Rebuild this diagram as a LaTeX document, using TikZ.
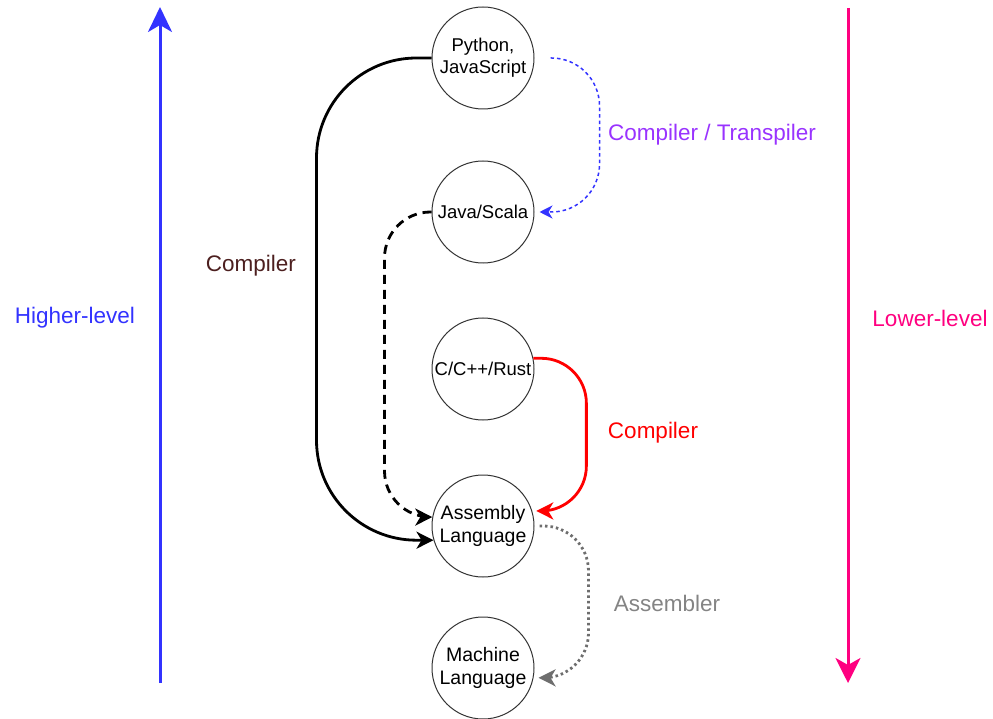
\documentclass[tikz,border=0pt]{standalone}
\usepackage{fontspec}
\setmainfont{Liberation Sans}
\usetikzlibrary{arrows.meta}

\definecolor{hiblue}{HTML}{3333FF}
\definecolor{lopink}{HTML}{FF0080}
\definecolor{maroon}{HTML}{4C1F1F}
\definecolor{violet}{HTML}{9933FF}
\definecolor{asmgray}{HTML}{6E6E6E}

\tikzset{
  lang/.style={circle, draw=black!80, line width=1pt, minimum size=102pt, inner sep=0pt, align=center},
  small/.style={font=\fontsize{18.5}{22}\selectfont},
  big/.style={font=\fontsize{19.5}{23.5}\selectfont},
  lbl/.style={font=\fontsize{22.5}{27}\selectfont},
  tipbig/.style={-{Stealth[length=17pt,width=17pt,inset=5pt]}},
  tipsmall/.style={-{Stealth[length=13pt,width=13pt,inset=4pt]}}
}

\begin{document}
\begin{tikzpicture}[x=1pt,y=-1pt]
  \useasboundingbox (0,0) rectangle (993,719);

  % the five levels
  \node[lang,small] (py) at (483,58) {Python,\\JavaScript};
  \node[lang,small] (jv) at (483,212) {Java/Scala};
  \node[lang,small] (cc) at (483,369) {C/C++/Rust};
  \node[lang,big] (asm) at (483,526) {Assembly\\Language};
  \node[lang,big] (mc) at (483,668) {Machine\\Language};

  % level axes
  \coordinate (hibot) at (160,683);
  \coordinate (hitop) at (160,7);
  \draw[line width=3pt, hiblue, -{Stealth[length=25pt,width=24pt,inset=7pt]}] (hibot) -- (hitop);
  \node[lbl, text=hiblue] (hi) at (75,318) {Higher-level};
  \coordinate (lotop) at (848,8);
  \coordinate (lobot) at (848,683);
  \draw[line width=3pt, lopink, -{Stealth[length=25pt,width=25pt,inset=7pt]}] (lotop) -- (lobot);
  \node[lbl, text=lopink] (lo) at (930,318) {Lower-level};

  % compilers on the left
  \draw[line width=2.8pt, rounded corners=100pt, tipbig] (py.west) -- ++(-115,0) |- (asm.196);
  \node[lbl, text=maroon] (comp1) at (251,266) {Compiler};
  \draw[line width=2.8pt, dash pattern=on 9pt off 6pt, rounded corners=46pt, tipbig] (jv.west) -- ++(-47,0) |- (asm.170);

  % translators on the right
  \draw[line width=1.5pt, hiblue, dash pattern=on 3.5pt off 3pt, rounded corners=48pt, shorten <=16pt, shorten >=5pt, tipsmall] (py.east) -- ++(65,0) |- (jv.east);
  \node[lbl, text=violet] (trans) at (712,135) {Compiler / Transpiler};
  \draw[line width=2.8pt, red, rounded corners=45pt, shorten >=4pt, tipbig] (cc.12) -- ++(53,0) |- (asm.17);
  \node[lbl, text=red] (comp2) at (653,433) {Compiler};
  \draw[line width=2.8pt, asmgray, dash pattern=on 2.5pt off 3pt, rounded corners=45pt, shorten <=5pt, shorten >=5pt, tipbig] (asm.east) -- ++(54,0) |- (mc.-11);
  \node[lbl, text=asmgray!85] (asmb) at (667,603) {Assembler};
\end{tikzpicture}
\end{document}
